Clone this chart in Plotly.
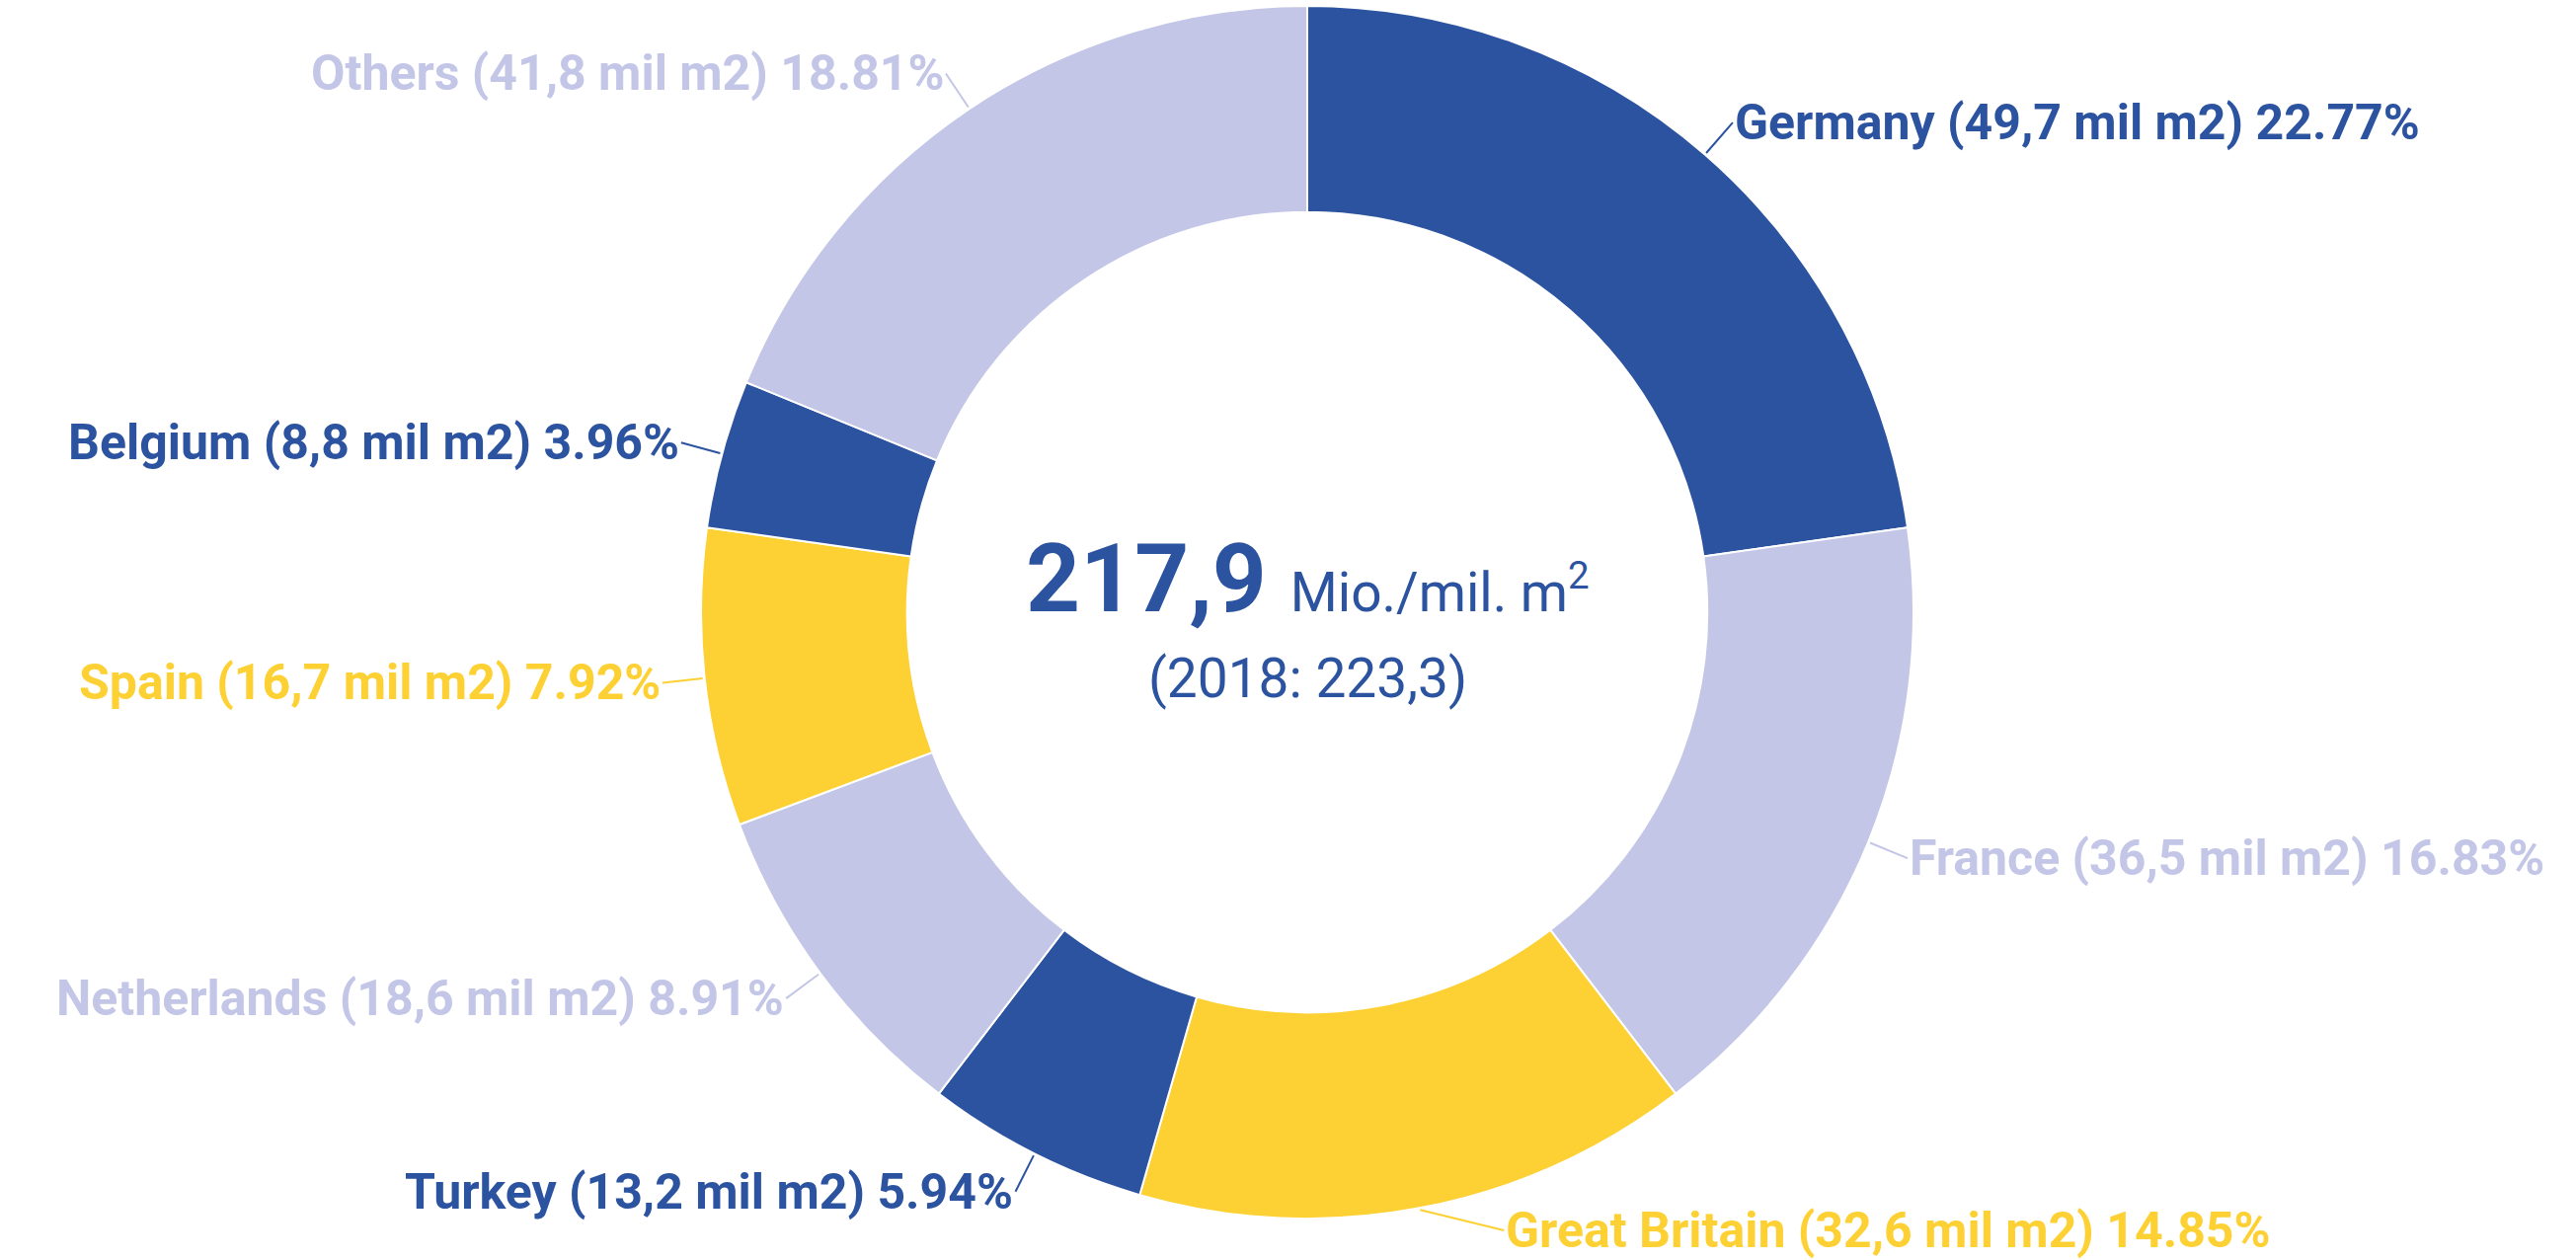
import math
import plotly.graph_objects as go

countries = ["Germany", "France", "Great Britain", "Turkey", "Netherlands", "Spain", "Belgium", "Others"]
area_mil_m2 = ["49,7", "36,5", "32,6", "13,2", "18,6", "16,7", "8,8", "41,8"]
share_pct = [22.77, 16.83, 14.85, 5.94, 8.91, 7.92, 3.96, 18.81]

total_text = "217,9"
unit_text = "Mio./mil. m<sup>2</sup>"
prev_text = "(2018: 223,3)"

BLUE = "#2c53a0"
LAV = "#c3c6e6"
YEL = "#fdd033"
colors = [BLUE, LAV, YEL, BLUE, LAV, YEL, BLUE, LAV]

W, H = 2609, 1276
# pie geometry (layout, in pixels)
CX, CY, R = 1324, 620, 614
R_LABEL = R * 1.07
LABEL_FONT = 50
Y_MIN, Y_MAX = 70, 1246

fig = go.Figure(go.Pie(
    labels=countries,
    values=share_pct,
    customdata=area_mil_m2,
    sort=False,
    direction="clockwise",
    rotation=0,
    hole=0.66,
    marker=dict(colors=colors, line=dict(color="white", width=2)),
    textinfo="none",
    hoverinfo="label+percent",
    domain=dict(x=[(CX - R) / W, (CX + R) / W], y=[max(0, 1 - (CY + R) / H), 1 - (CY - R) / H]),
    showlegend=False,
))

# outside labels with leader lines, positioned from each slice's mid-angle
total = sum(share_pct)
cum = 0.0
for name, area, share, col in zip(countries, area_mil_m2, share_pct, colors):
    mid = (cum + share / 2) / total
    cum += share
    th = 2 * math.pi * mid
    s, c = math.sin(th), math.cos(th)
    ex, ey = CX + (R + 2) * s, CY - (R + 2) * c
    lx, ly = CX + R_LABEL * s, CY - R_LABEL * c
    if ly > Y_MAX or ly < Y_MIN:
        ly = min(max(ly, Y_MIN), Y_MAX)
        dy = ly - CY
        lx = CX + math.copysign(math.sqrt(max(R_LABEL ** 2 - dy ** 2, 0)), s)
    right = s >= 0
    fig.add_annotation(
        x=ex / W, y=1 - ey / H, xref="paper", yref="paper",
        ax=lx - ex, ay=ly - ey, axref="pixel", ayref="pixel",
        text=f"{name} ({area} mil m2) {share:.2f}%",
        showarrow=True, arrowhead=0, arrowwidth=2, arrowcolor=col, standoff=0,
        xanchor="left" if right else "right", yanchor="middle",
        font=dict(family="Roboto", size=LABEL_FONT, color=col, weight="bold"),
    )

fig.add_annotation(
    x=CX / W, y=1 - 586 / H, xref="paper", yref="paper",
    text=f"<b>{total_text}</b> <span style='font-size:55px'>{unit_text}</span>",
    showarrow=False, font=dict(family="Roboto", size=96, color=BLUE),
    xanchor="center", yanchor="middle",
)
fig.add_annotation(
    x=CX / W, y=1 - 687 / H, xref="paper", yref="paper",
    text=prev_text,
    showarrow=False, font=dict(family="Roboto", size=55, color=BLUE),
    xanchor="center", yanchor="middle",
)

fig.update_layout(
    width=W, height=H,
    margin=dict(l=0, r=0, t=0, b=0),
    paper_bgcolor="white", plot_bgcolor="white",
)

fig.write_html("out.html")
